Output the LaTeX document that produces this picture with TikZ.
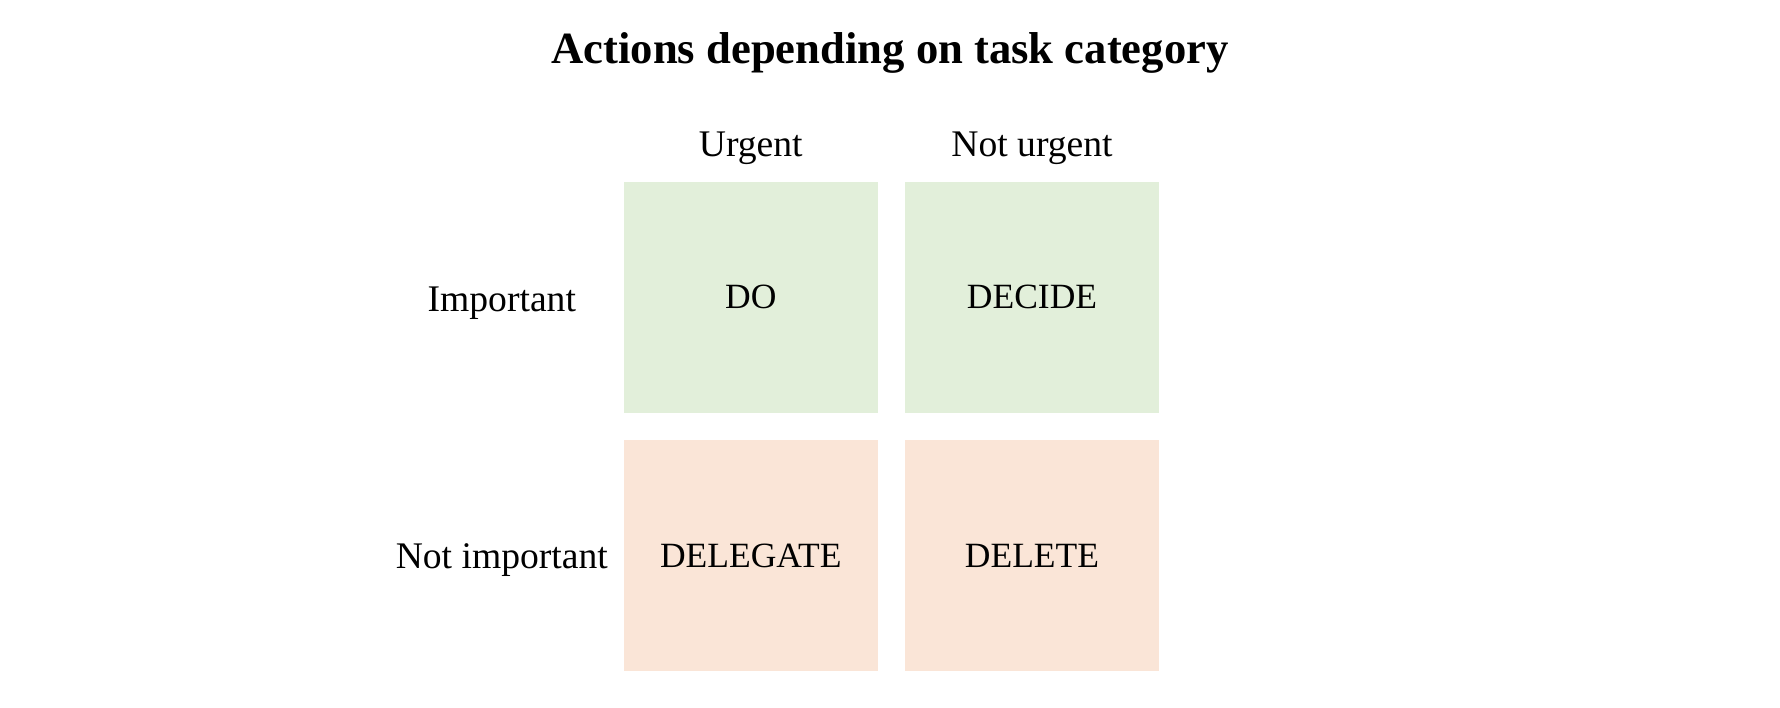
\documentclass[tikz,border=0pt]{standalone}
\usepackage{fontspec}
\setmainfont{Liberation Serif}
\definecolor{quadgreen}{HTML}{E2EFDA}
\definecolor{quadorange}{HTML}{FAE5D7}

\begin{document}
\begin{tikzpicture}[
    quad/.style={minimum width=2.535cm, minimum height=2.316cm, inner sep=0pt,
      font=\fontsize{10.1}{12}\selectfont},
    lbl/.style={font=\fontsize{10.7}{12}\selectfont}]
    \useasboundingbox (0,0) rectangle (17.8,-7.08);
    \node (title) at (8.9,-0.525) {\fontsize{12.7}{15}\selectfont\bfseries Actions depending on task category};
    % column headers
    \node (urgent) at (7.508,-1.485) [lbl] {Urgent};
    \node (noturgent) at (10.32,-1.485) [lbl] {Not urgent};
    % row labels
    \node (important) at (5.018,-3.03) [lbl] {Important};
    \node (notimportant) at (5.018,-5.605) [lbl] {Not important};
    % quadrants
    \node (do) at (7.508,-2.974) [quad, fill=quadgreen] {DO};
    \node (decide) at (10.32,-2.974) [quad, fill=quadgreen] {DECIDE};
    \node (delegate) at (7.508,-5.557) [quad, fill=quadorange] {DELEGATE};
    \node (delete) at (10.32,-5.557) [quad, fill=quadorange] {DELETE};
\end{tikzpicture}
\end{document}
